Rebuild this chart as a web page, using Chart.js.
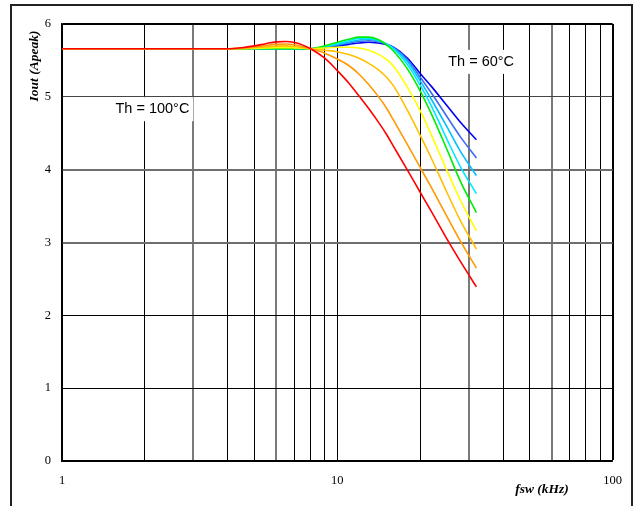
<!DOCTYPE html>
<html>
<head>
<meta charset="utf-8">
<script src="https://cdn.jsdelivr.net/npm/chart.js@4.4.1/dist/chart.umd.min.js"></script>
<style>
  html, body { margin: 0; padding: 0; background: #fff; }
  #wrap { position: relative; width: 634px; height: 506px; overflow: hidden; }
  #frame { position: absolute; left: 10px; top: 4px; width: 623px; height: 520px; border: 2px solid #222; box-sizing: border-box; }
  canvas { position: absolute; left: 0; top: 0; }
</style>
</head>
<body>
<div id="wrap">
  <div id="frame"></div>
  <canvas id="c" width="634" height="506"></canvas>
</div>
<script>
// ---- data ----
const freqs = [1, 2, 3, 4, 4.5, 5, 5.5, 6, 6.5, 7, 7.5, 8, 9, 10, 11, 12, 13, 14, 15, 16, 18, 20, 22, 25, 28, 32];
const th100 = [5.66,5.66,5.66,5.66,5.675,5.70,5.73,5.755,5.76,5.745,5.71,5.66,5.53,5.36,5.19,5.01,4.84,4.67,4.50,4.32,3.99,3.69,3.42,3.05,2.74,2.39];
const th95  = [5.66,5.66,5.66,5.66,5.67,5.685,5.705,5.72,5.725,5.715,5.69,5.66,5.60,5.52,5.43,5.31,5.17,5.02,4.86,4.68,4.34,4.03,3.75,3.36,3.02,2.65];
const th90  = [5.66,5.66,5.66,5.66,5.665,5.675,5.685,5.695,5.70,5.69,5.675,5.66,5.64,5.62,5.58,5.53,5.46,5.38,5.28,5.15,4.81,4.47,4.15,3.69,3.30,2.91];
const th85  = [5.66,5.66,5.66,5.66,5.66,5.665,5.67,5.675,5.675,5.672,5.668,5.66,5.67,5.68,5.68,5.67,5.64,5.59,5.52,5.42,5.13,4.81,4.47,3.99,3.58,3.16];
const th80  = [5.66,5.66,5.66,5.66,5.66,5.66,5.66,5.66,5.66,5.66,5.66,5.66,5.70,5.75,5.79,5.82,5.82,5.79,5.72,5.63,5.38,5.08,4.76,4.28,3.84,3.41];
const th75  = [5.66,5.66,5.66,5.66,5.66,5.66,5.66,5.66,5.66,5.66,5.66,5.66,5.69,5.73,5.77,5.80,5.80,5.78,5.73,5.66,5.44,5.16,4.87,4.42,4.04,3.67];
const th70  = [5.66,5.66,5.66,5.66,5.66,5.66,5.66,5.66,5.66,5.66,5.66,5.66,5.69,5.72,5.75,5.78,5.79,5.77,5.73,5.67,5.48,5.22,4.96,4.59,4.25,3.92];
const th65  = [5.66,5.66,5.66,5.66,5.66,5.66,5.66,5.66,5.66,5.66,5.66,5.66,5.68,5.71,5.74,5.76,5.77,5.76,5.73,5.68,5.51,5.27,5.05,4.73,4.45,4.16];
const th60  = [5.66,5.66,5.66,5.66,5.66,5.66,5.66,5.66,5.66,5.66,5.66,5.66,5.68,5.70,5.72,5.74,5.75,5.74,5.72,5.68,5.53,5.32,5.14,4.88,4.65,4.41];
const seriesNames = ['Th = 100°C','Th = 95°C','Th = 90°C','Th = 85°C','Th = 80°C','Th = 75°C','Th = 70°C','Th = 65°C','Th = 60°C'];
const seriesData = [th100, th95, th90, th85, th80, th75, th70, th65, th60];
const seriesColors = ['#FF0000','#FF9900','#FFC000','#FFFF00','#00EE00','#00E8FF','#00C0FF','#3F6BF0','#0000F0'];
const xTicks = [1,2,3,4,5,6,7,8,9,10,20,30,40,50,60,70,80,90,100];
const xLabels = {1:'1', 10:'10', 100:'100'};
const yTicks = [0,1,2,3,4,5,6];
const annotations = [
  {text:'Th = 100°C', x:2.13, y:4.83},
  {text:'Th = 60°C',  x:33.3, y:5.48}
];
const xTitle = 'fsw (kHz)';
const yTitle = 'Iout (Apeak)';

const datasets = seriesData.map((d, i) => ({
  label: seriesNames[i],
  data: freqs.map((f, j) => ({x: f, y: d[j]})),
  borderColor: seriesColors[i],
  backgroundColor: seriesColors[i],
  borderWidth: 1.6,
  pointRadius: 0,
  cubicInterpolationMode: 'monotone',
  fill: false,
  order: i
}));

const serif = '"Liberation Serif", "Times New Roman", serif';

const gridX = (ctx) => {
  const v = ctx.tick && ctx.tick.value;
  if (v === 100) return '#000';
  if ([3,6,30,60].includes(v)) return '#7a7a7a';
  return '#000';
};
const gridXW = (ctx) => {
  const v = ctx.tick && ctx.tick.value;
  if (v === 100) return 2;
  if ([3,6,30,60].includes(v)) return 2;
  return 1;
};
const gridY = (ctx) => {
  const v = ctx.tick && ctx.tick.value;
  if (v === 3 || v === 4) return '#6e6e6e';
  if (v === 5) return '#444';
  return '#000';
};
const gridYW = (ctx) => {
  const v = ctx.tick && ctx.tick.value;
  if (v === 3 || v === 4 || v === 6) return 2;
  return 1;
};

const overlay = {
  id: 'overlay',
  beforeDatasetsDraw(chart) {
    const c = chart.ctx, xs = chart.scales.x, ys = chart.scales.y;
    c.save();
    c.font = '14.5px "Liberation Sans", Arial, sans-serif';
    c.textAlign = 'center';
    c.textBaseline = 'middle';
    annotations.forEach(a => {
      const px = xs.getPixelForValue(a.x), py = ys.getPixelForValue(a.y);
      const w = c.measureText(a.text).width + 8;
      c.fillStyle = '#fff';
      c.fillRect(px - w/2, py - 12, w, 24);
      c.fillStyle = '#000';
      c.fillText(a.text, px, py);
    });
    c.restore();
  },
  afterDraw(chart) {
    const c = chart.ctx;
    c.save();
    c.fillStyle = '#000';
    c.font = 'italic bold 13.5px ' + serif;
    c.textAlign = 'center';
    c.textBaseline = 'middle';
    c.fillText(xTitle, 542, 490);
    c.translate(35, 66);
    c.rotate(-Math.PI/2);
    c.fillText(yTitle, 0, 0);
    c.restore();
  }
};

new Chart(document.getElementById('c'), {
  type: 'line',
  data: { datasets },
  options: {
    responsive: false,
    animation: false,
    devicePixelRatio: 1,
    layout: { padding: { top: 24, right: 20, left: 0, bottom: 0 } },
    plugins: { legend: { display: false }, tooltip: { enabled: false }, title: { display: false } },
    scales: {
      x: {
        type: 'logarithmic',
        min: 1, max: 100,
        afterBuildTicks: (s) => { s.ticks = xTicks.map(v => ({value: v})); },
        afterFit: (s) => { s.height = 45; },
        ticks: {
          autoSkip: false, maxRotation: 0, padding: 12,
          color: '#000', font: { family: serif, size: 12.5 },
          callback: (v) => xLabels[v] || ''
        },
        grid: { color: gridX, lineWidth: gridXW, drawTicks: false },
        border: { display: true, color: '#000', width: 1.5 }
      },
      y: {
        type: 'linear',
        min: 0, max: 6,
        afterBuildTicks: (s) => { s.ticks = yTicks.map(v => ({value: v})); },
        afterFit: (s) => { s.width = 62; },
        ticks: { padding: 11, color: '#000', font: { family: serif, size: 12.5 } },
        grid: { color: gridY, lineWidth: gridYW, drawTicks: false },
        border: { display: true, color: '#000', width: 1.5 }
      }
    }
  },
  plugins: [overlay]
});
</script>
</body>
</html>
